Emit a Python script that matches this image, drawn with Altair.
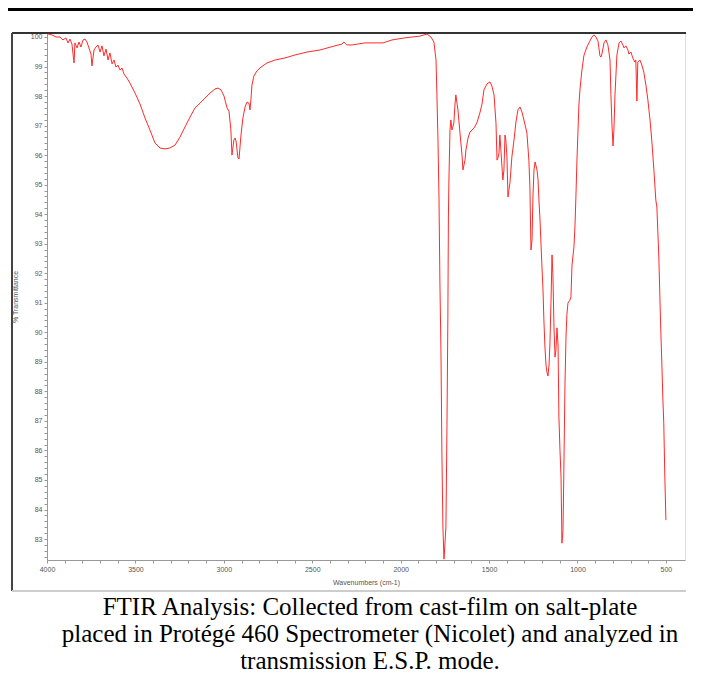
import altair as alt
import pandas as pd

# ---- spectrum (wavenumber cm-1, % transmittance) ----
wavenumber = [
    3994, 3972, 3949, 3926, 3910, 3893, 3881, 3870, 3859, 3847, 3842, 3830, 3819, 3808,
    3796, 3785, 3774, 3763, 3751, 3746, 3734, 3723, 3712, 3700, 3689, 3678, 3666, 3655,
    3644, 3632, 3621, 3610, 3599, 3587, 3576, 3565, 3548, 3531, 3502, 3474, 3446, 3418,
    3389, 3361, 3333, 3305, 3276, 3248, 3220, 3191, 3163, 3135, 3107, 3078, 3050, 3033,
    3016, 2999, 2982, 2971, 2960, 2954, 2943, 2937, 2931, 2920, 2914, 2903, 2892, 2880,
    2869, 2858, 2852, 2847, 2841, 2830, 2813, 2790, 2756, 2711, 2654, 2598, 2530, 2456,
    2372, 2332, 2321, 2304, 2275, 2202, 2100, 2049, 1976, 1891, 1851, 1829, 1812, 1800,
    1795, 1789, 1783, 1778, 1772, 1767, 1761, 1755, 1750, 1744, 1738, 1733, 1730, 1727,
    1721, 1716, 1710, 1699, 1693, 1688, 1676, 1665, 1653, 1648, 1636, 1631, 1619, 1608,
    1585, 1569, 1552, 1540, 1529, 1512, 1495, 1484, 1472, 1461, 1455, 1450, 1444, 1439,
    1433, 1427, 1422, 1416, 1410, 1405, 1399, 1393, 1388, 1382, 1371, 1359, 1348, 1337,
    1325, 1314, 1303, 1286, 1275, 1269, 1263, 1257, 1252, 1246, 1240, 1229, 1223, 1218,
    1212, 1206, 1201, 1195, 1190, 1184, 1178, 1173, 1167, 1161, 1156, 1150, 1144, 1139,
    1133, 1127, 1122, 1116, 1110, 1105, 1099, 1093, 1088, 1082, 1077, 1071, 1065, 1060,
    1054, 1043, 1037, 1031, 1020, 1014, 1009, 1003, 997, 992, 986, 975, 964, 947,
    930, 918, 907, 896, 884, 879, 873, 867, 862, 850, 839, 828, 816, 811,
    805, 799, 794, 788, 777, 765, 754, 743, 737, 726, 715, 709, 698, 687,
    676, 670, 664, 659, 647, 636, 625, 613, 602, 591, 580, 568, 557, 551,
    546, 540, 534, 529, 523, 517, 512, 506, 500,
]
transmittance = [
    100.10, 100.07, 100.00, 100.00, 99.90, 99.97, 99.80, 99.93, 99.76, 99.12, 99.80, 99.63, 99.83, 99.66,
    99.90, 99.93, 99.83, 99.63, 99.42, 99.02, 99.56, 99.66, 99.73, 99.49, 99.70, 99.36, 99.59, 99.22,
    99.46, 99.09, 99.22, 98.98, 99.05, 98.88, 98.95, 98.75, 98.61, 98.44, 98.10, 97.73, 97.26, 96.85,
    96.41, 96.24, 96.21, 96.24, 96.34, 96.61, 96.95, 97.29, 97.60, 97.76, 97.93, 98.10, 98.24, 98.27,
    98.21, 98.00, 97.60, 97.49, 96.85, 96.00, 96.51, 96.58, 96.48, 95.90, 95.87, 96.68, 97.26, 97.63,
    97.80, 97.76, 97.53, 97.87, 98.37, 98.68, 98.85, 98.98, 99.12, 99.22, 99.29, 99.39, 99.49, 99.56,
    99.70, 99.76, 99.83, 99.73, 99.73, 99.80, 99.80, 99.90, 99.97, 100.03, 100.10, 100.00, 99.83, 99.22,
    98.04, 96.51, 94.48, 91.67, 89.30, 86.01, 83.41, 82.32, 82.80, 83.41, 86.93, 90.52, 93.90, 95.16,
    96.85, 97.19, 96.85, 97.09, 97.70, 98.04, 97.53, 96.78, 96.00, 95.50, 95.83, 96.17, 96.58, 96.78,
    96.92, 97.09, 97.43, 97.73, 98.21, 98.41, 98.48, 98.34, 98.04, 97.09, 95.83, 95.90, 96.07, 96.68,
    96.17, 95.60, 95.16, 95.50, 96.68, 96.51, 95.94, 94.58, 94.82, 95.06, 95.94, 96.51, 97.12, 97.53,
    97.63, 97.46, 97.19, 96.75, 95.83, 94.92, 92.79, 93.13, 94.58, 95.50, 95.77, 95.50, 95.16, 94.48,
    93.80, 92.96, 92.21, 91.43, 90.42, 89.50, 88.89, 88.66, 88.52, 88.89, 89.57, 90.99, 92.62, 91.94,
    90.18, 89.16, 89.40, 90.15, 89.57, 87.13, 86.01, 85.10, 82.86, 83.30, 85.34, 88.15, 89.84, 90.59,
    90.99, 91.09, 91.20, 92.28, 92.89, 93.63, 94.58, 95.83, 96.85, 97.70, 98.21, 98.88, 99.36, 99.66,
    99.86, 100.00, 100.07, 100.00, 99.86, 99.63, 99.36, 99.32, 99.42, 99.80, 99.90, 99.73, 99.22, 98.04,
    97.02, 96.31, 96.85, 98.04, 99.39, 99.80, 99.86, 99.73, 99.63, 99.70, 99.56, 99.42, 99.49, 99.29,
    99.15, 99.22, 97.83, 99.15, 99.22, 99.05, 98.81, 98.37, 97.87, 97.26, 96.51, 95.50, 94.48, 94.24,
    93.46, 92.55, 91.20, 90.08, 88.96, 87.71, 86.93, 85.10, 83.64,
]

x_label_values = [4000, 3500, 3000, 2500, 2000, 1500, 1000, 500]
x_tick_values = [4000 - 100 * i for i in range(36)]
y_label_values = [83, 84, 85, 86, 87, 88, 89, 90, 91, 92, 93, 94, 95, 96, 97, 98, 99, 100]
y_tick_values = [round(82.4 + 0.2 * i, 1) for i in range(89)]

x_title = "Wavenumbers (cm-1)"
y_title = "% Transmittance"
caption = ("FTIR Analysis: Collected from cast-film on salt-plate\n"
           "placed in Protégé 460 Spectrometer (Nicolet) and analyzed in\n"
           "transmission E.S.P. mode.")

df = pd.DataFrame({"wn": wavenumber, "t": transmittance})

W, H = 638, 527

spectrum = alt.Chart(df).mark_line(color="#ff2a2a", strokeWidth=1, interpolate="linear").encode(
    x=alt.X("wn:Q", sort=None,
            scale=alt.Scale(domain=[4000, 392], nice=False, zero=False),
            axis=alt.Axis(values=x_tick_values, title=x_title,
                          labelExpr="datum.value % 500 == 0 ? datum.label : ''",
                          format="d", labelFont="Liberation Sans", labelFontSize=7,
                          labelColor="#555", titleFont="Liberation Sans", titleFontSize=7,
                          titleFontWeight="normal", titleColor="#555", titlePadding=6,
                          domainColor="#999", tickColor="#999", tickSize=3, labelPadding=2,
                          grid=False, labelFlush=False, labelOverlap=False)),
    y=alt.Y("t:Q",
            scale=alt.Scale(domain=[82.29, 100.135], nice=False, zero=False),
            axis=alt.Axis(values=y_tick_values, title=y_title,
                          labelExpr="abs(round(datum.value) - datum.value) < 0.01 ? format(datum.value, 'd') : ''",
                          labelFont="Liberation Sans", labelFontSize=7, labelColor="#555",
                          titleFont="Liberation Sans", titleFontSize=7, titleFontWeight="normal",
                          titleColor="#555", titlePadding=12,
                          domainColor="#999", tickColor="#999", tickSize=3, labelPadding=2,
                          grid=False, labelOverlap=False)),
    order=alt.Order("wn:Q", sort="descending"),
)

top_rule = alt.Chart(df).mark_rule(color="#000", strokeWidth=3).encode(
    x=alt.value(-39), x2=alt.value(W + 8), y=alt.value(-23.5))
frame_top = alt.Chart(df).mark_rule(color="#333", strokeWidth=2).encode(
    x=alt.value(-35), x2=alt.value(W + 1), y=alt.value(0))
frame_left = alt.Chart(df).mark_rule(color="#444", strokeWidth=2).encode(
    x=alt.value(-35), y=alt.value(0), y2=alt.value(H + 31))
frame_bottom = alt.Chart(df).mark_rule(color="#ccc", strokeWidth=1.5).encode(
    x=alt.value(-35), x2=alt.value(W + 1), y=alt.value(H + 31))

caption_text = alt.Chart(pd.DataFrame({"c": [caption]})).mark_text(
    font="Liberation Serif", fontSize=25, color="#000", align="center",
    baseline="alphabetic", lineBreak="\n", lineHeight=27,
).encode(text="c:N", x=alt.value(323), y=alt.value(582))

chart = alt.layer(top_rule, frame_top, frame_left, frame_bottom, spectrum, caption_text).properties(
    width=W, height=H,
    autosize=alt.AutoSizeParams(type="none"),
    padding={"left": 39, "top": 25, "right": 8, "bottom": 113},
).configure_view(stroke=None).configure(background="white")

chart.save("out.html", embed_options={"renderer": "svg", "actions": False})
